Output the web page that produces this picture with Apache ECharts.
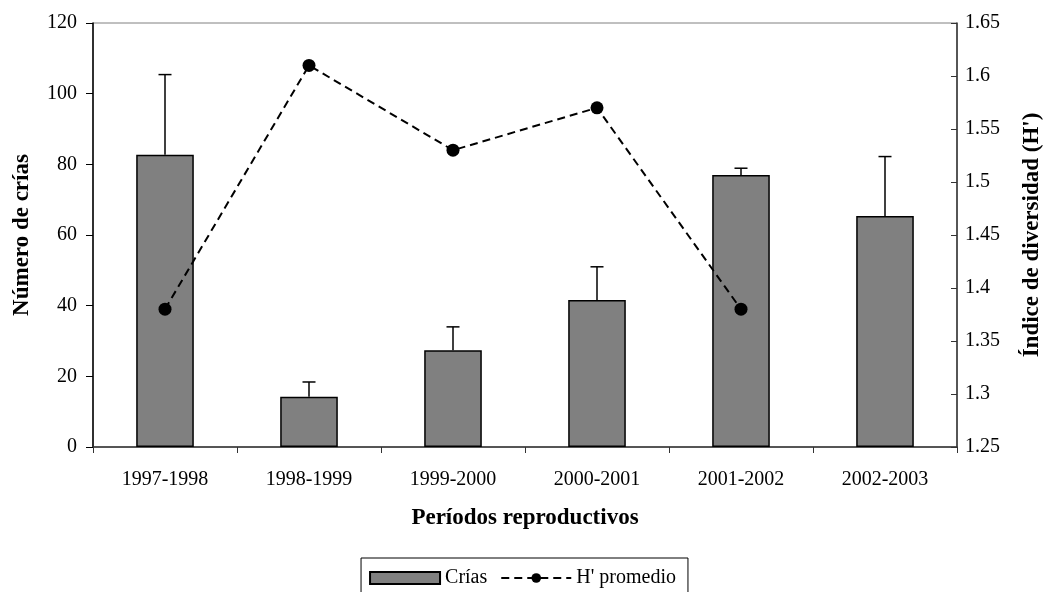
<!DOCTYPE html>
<html>
<head>
<meta charset="utf-8">
<script src="https://cdn.jsdelivr.net/npm/echarts@6/dist/echarts.min.js"></script>
<style>
  html, body { margin: 0; padding: 0; background: #fff; }
  #chart { width: 1045px; height: 592px; }
</style>
</head>
<body>
<div id="chart"></div>
<script>
// Reproductive periods and counts of pups (left axis) with mean diversity H' (right axis)
const categories = ['1997-1998', '1998-1999', '1999-2000', '2000-2001', '2001-2002', '2002-2003'];
const crias = [82.7, 14.2, 27.4, 41.6, 77.0, 65.4];
const criasError = [22.7, 4.2, 6.6, 9.4, 1.9, 16.8];
const diversidad = [1.38, 1.61, 1.53, 1.57, 1.38, null];

const FONT = '"Liberation Serif", "Times New Roman", serif';
const TICK_SIZE = 20;
const NAME_SIZE = 23;

const chart = echarts.init(document.getElementById('chart'), null, { renderer: 'canvas' });

// error-bar data: [category index, bar value, upper end]
const errorData = crias.map((v, i) => [i, v, v + criasError[i]]);

const option = {
  backgroundColor: '#ffffff',
  animation: false,
  textStyle: { fontFamily: FONT, color: '#000' },
  grid: {
    left: 93, right: 88, top: 23, bottom: 145,
    containLabel: false,
    outerBoundsMode: 'none',
    show: true, borderColor: '#808080', borderWidth: 1, backgroundColor: 'transparent'
  },
  legend: {
    top: 558,
    left: 'center',
    orient: 'horizontal',
    padding: [10, 12, 10, 8],
    itemGap: 13,
    itemWidth: 70,
    itemHeight: 12,
    borderColor: '#000',
    borderWidth: 1,
    textStyle: { fontFamily: FONT, fontSize: TICK_SIZE, color: '#000' },
    data: [
      { name: 'Crías', icon: 'rect' },
      { name: "H' promedio" }
    ]
  },
  xAxis: {
    type: 'category',
    data: categories,
    boundaryGap: true,
    name: 'Períodos reproductivos',
    nameLocation: 'middle',
    nameGap: 60,
    nameTextStyle: { fontFamily: FONT, fontSize: NAME_SIZE, fontWeight: 'bold', color: '#000' },
    axisLine: { lineStyle: { color: '#333', width: 1.5 } },
    axisTick: { show: true, length: 6, lineStyle: { color: '#333' } },
    axisLabel: { fontFamily: FONT, fontSize: TICK_SIZE, color: '#000', margin: 23 },
    splitLine: { show: false }
  },
  yAxis: [
    {
      type: 'value',
      min: 0, max: 120, interval: 20,
      position: 'left',
      name: 'Número de crías',
      nameLocation: 'middle',
      nameRotate: 90,
      nameGap: 59,
      nameTextStyle: { fontFamily: FONT, fontSize: NAME_SIZE, fontWeight: 'bold', color: '#000' },
      axisLine: { show: true, lineStyle: { color: '#000', width: 1.5 } },
      axisTick: { show: true, length: 7, lineStyle: { color: '#000' } },
      axisLabel: { fontFamily: FONT, fontSize: TICK_SIZE, color: '#000', margin: 16 },
      splitLine: { show: false }
    },
    {
      type: 'value',
      min: 1.25, max: 1.65, interval: 0.05,
      position: 'right',
      name: "Índice de diversidad (H')",
      nameLocation: 'middle',
      nameRotate: 90,
      nameGap: 64,
      nameTextStyle: { fontFamily: FONT, fontSize: NAME_SIZE, fontWeight: 'bold', color: '#000' },
      axisLine: { show: true, lineStyle: { color: '#333', width: 1.5 } },
      axisTick: { show: true, inside: true, length: 6, lineStyle: { color: '#333' } },
      axisLabel: {
        fontFamily: FONT, fontSize: TICK_SIZE, color: '#000', margin: 8,
        formatter: v => String(parseFloat(v.toFixed(2)))
      },
      splitLine: { show: false }
    }
  ],
  series: [
    {
      name: 'Crías',
      type: 'bar',
      yAxisIndex: 0,
      data: crias,
      barWidth: '40%',
      itemStyle: { color: '#808080', borderColor: '#000', borderWidth: 1.5 },
      z: 2
    },
    {
      name: 'errores',
      type: 'custom',
      yAxisIndex: 0,
      data: errorData,
      z: 3,
      renderItem: function (params, api) {
        const x = api.value(0);
        const base = api.coord([x, api.value(1)]);
        const top = api.coord([x, api.value(2)]);
        const half = 6.5;
        const style = { stroke: '#000', lineWidth: 1.5 };
        return {
          type: 'group',
          children: [
            { type: 'line', shape: { x1: base[0], y1: base[1], x2: top[0], y2: top[1] }, style: style },
            { type: 'line', shape: { x1: top[0] - half, y1: top[1], x2: top[0] + half, y2: top[1] }, style: style }
          ]
        };
      }
    },
    {
      name: "H' promedio",
      type: 'line',
      yAxisIndex: 1,
      data: diversidad,
      connectNulls: false,
      symbol: 'circle',
      symbolSize: 13,
      itemStyle: { color: '#000' },
      lineStyle: { color: '#000', width: 2, type: [8, 5] },
      z: 4
    }
  ]
};

chart.setOption(option);
</script>
</body>
</html>
